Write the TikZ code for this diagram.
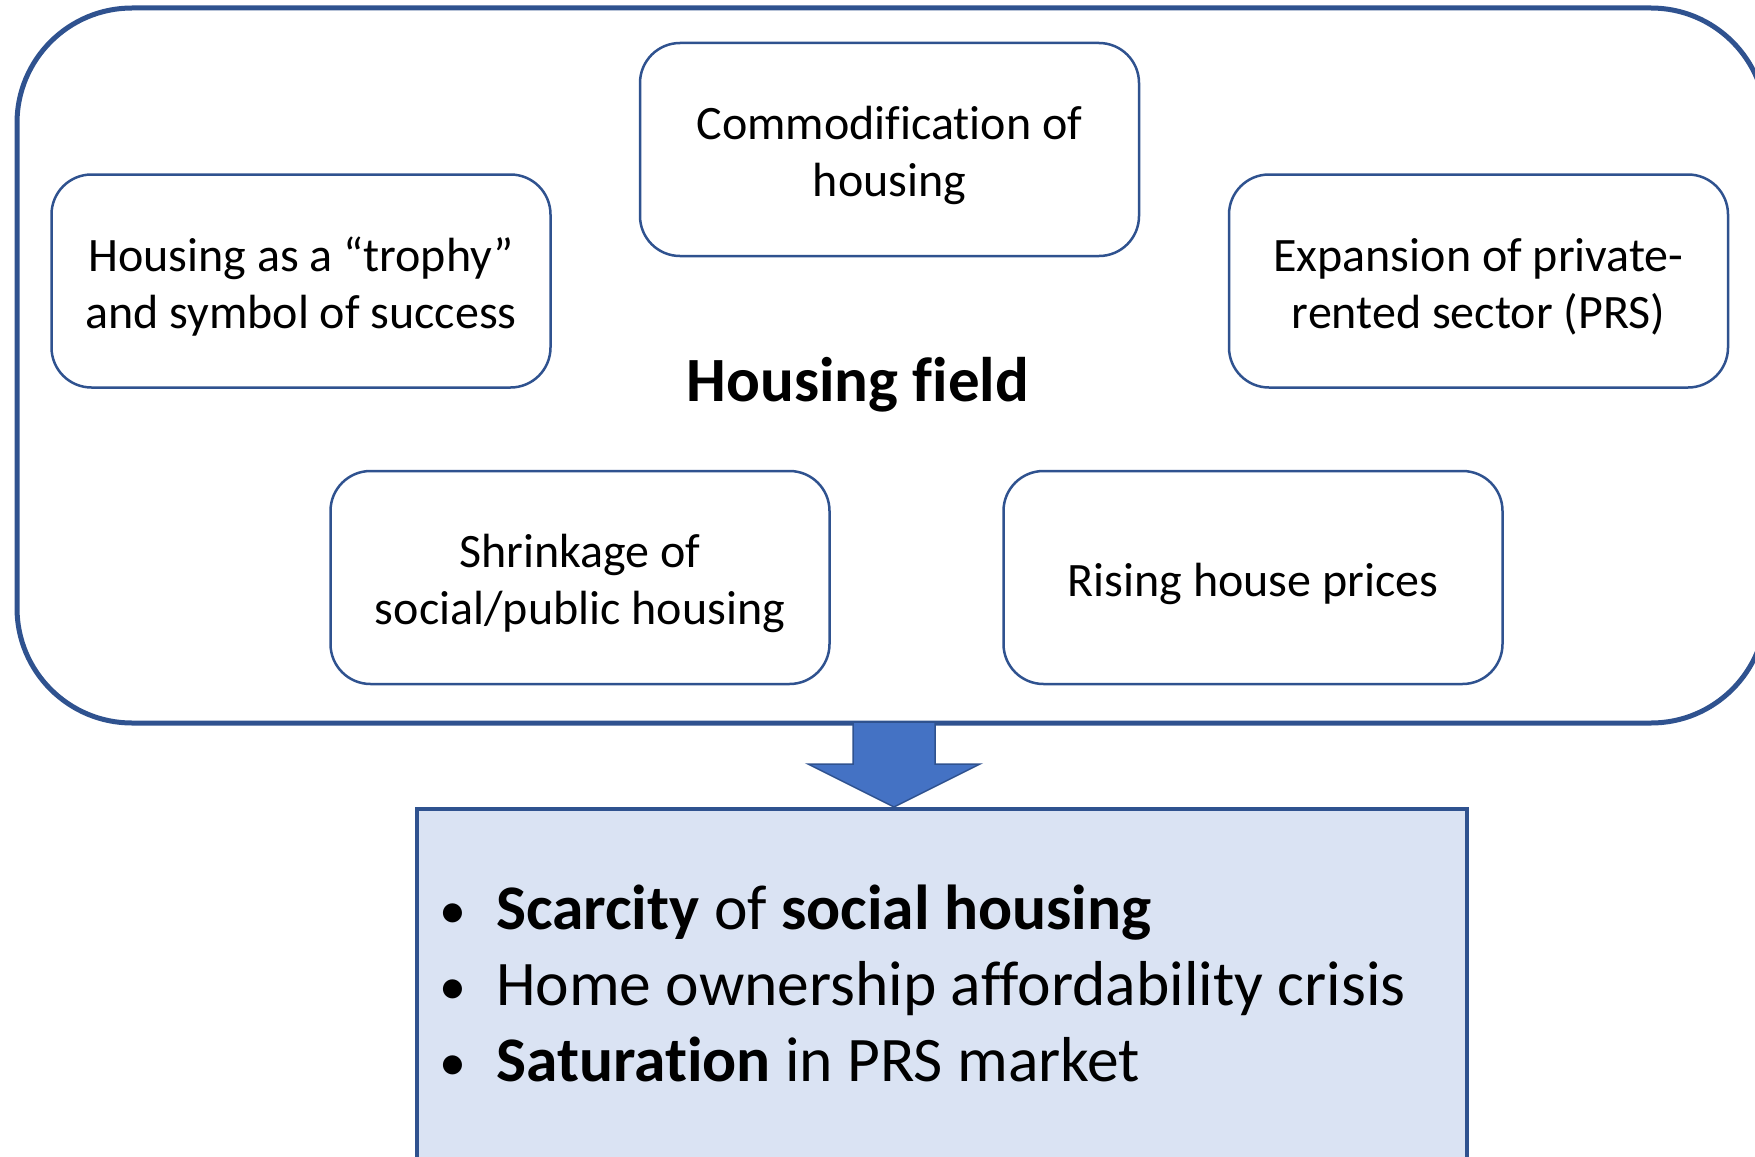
\documentclass[tikz,border=0pt]{standalone}
\usepackage{fontspec}
\setmainfont{Carlito}[Ligatures=NoCommon]
\usetikzlibrary{calc}
\definecolor{edge}{HTML}{2F528F}
\definecolor{arrowfill}{HTML}{4472C4}
\definecolor{resultfill}{HTML}{DAE3F3}
\newcommand{\bul}{\makebox[57pt][l]{\raisebox{1pt}{\scalebox{0.85}{•}}}}
\tikzset{
  fieldbox/.style={draw=edge, line width=5pt, rounded corners=115pt,
    minimum width=1749pt, minimum height=715pt, inner sep=0pt},
  factor/.style={draw=edge, line width=2.5pt, rounded corners=40pt, fill=white,
    minimum width=499pt, minimum height=213pt},
  factortext/.style={align=center, font=\fontsize{48}{57}\selectfont, yshift=-6pt},
  resultbox/.style={draw=edge, fill=resultfill, line width=4pt,
    minimum width=1050pt, minimum height=380pt, inner sep=0pt},
  outcome/.style={anchor=base west, inner sep=0pt, font=\fontsize{63.5}{76}\selectfont},
  blockarrow/.style={fill=arrowfill, draw=edge, line width=1.5pt, line join=miter},
}
\begin{document}
\begin{tikzpicture}[x=1pt,y=-1pt]
\useasboundingbox (0,0) rectangle (1755,1156);
\clip (0,0) rectangle (1755,1156);

% housing field container
\node[fieldbox] (field) at (891.5,365.5) {};
\node[font=\bfseries\fontsize{63}{76}\selectfont, anchor=base] (fieldlabel) at (858,401) {Housing field};

% factors inside the field
\node[factor, label={[factortext]center:{Commodification of\\housing}}] (commod) at (889.5,149.5) {};
\node[factor, label={[factortext]center:{Housing as a “trophy”\\and symbol of success}}] (trophy) at (301,281) {};
\node[factor, label={[factortext]center:{Expansion of private-\\rented sector (PRS)}}] (prs) at (1478.5,281) {};
\node[factor, label={[factortext]center:{Shrinkage of\\social/public housing}}] (shrink) at (580,577.5) {};
\node[factor, label={[factortext]center:{Rising house prices}}] (rising) at (1253,577.5) {};

% outcome box
\node[resultbox, anchor=north west] (result) at (415,807) {};
\node[outcome] (scarcity) at (439,929) {\bul\textbf{Scarcity} of \textbf{social housing}};
\node[outcome] (afford) at (439,1005) {\bul Home ownership affordability crisis};
\node[outcome] (saturation) at (439,1081) {\bul\textbf{Saturation} in PRS market};

% block arrow from the field down to the outcomes
\coordinate (atop) at (894,722);
\coordinate (atip) at (result.north -| atop);
\draw[blockarrow] ($(atop)+(-41,0)$) -- ($(atop)+(-41,42)$) -- ($(atop)+(-86,42)$)
  -- (atip) -- ($(atop)+(86,42)$) -- ($(atop)+(41,42)$) -- ($(atop)+(41,0)$) -- cycle;
\end{tikzpicture}
\end{document}
